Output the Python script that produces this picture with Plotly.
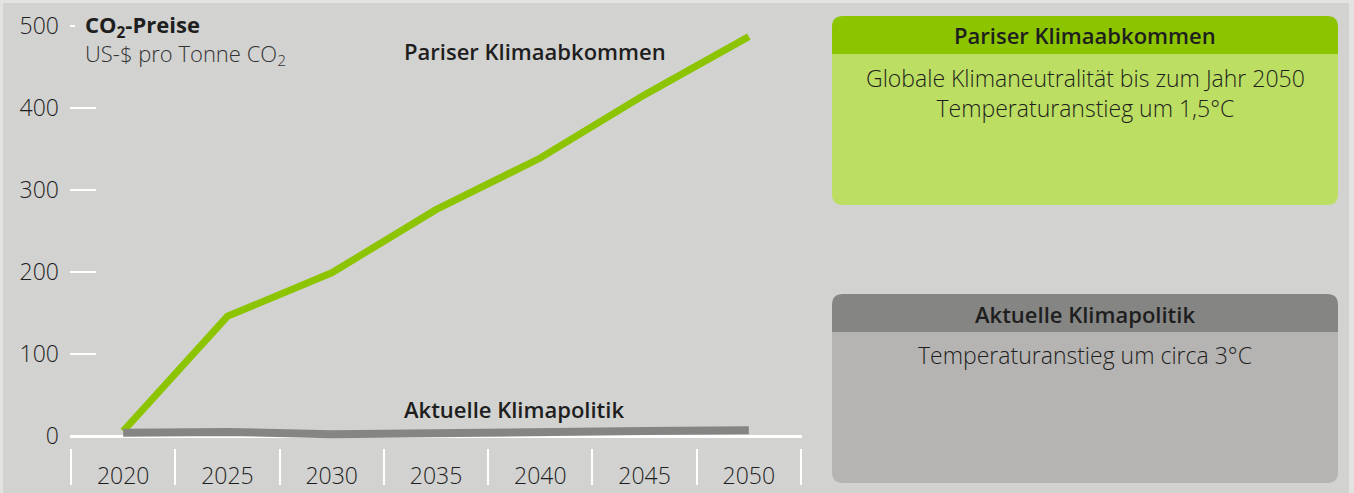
import plotly.graph_objects as go

# --- data -------------------------------------------------------------
years = [2020, 2025, 2030, 2035, 2040, 2045, 2050]
paris_prices = [6, 146, 199, 276, 339, 416, 487]      # Pariser Klimaabkommen
current_prices = [4, 5, 2, 4, 5, 6, 7]                 # Aktuelle Klimapolitik
y_ticks = [0, 100, 200, 300, 400, 500]
year_bounds = [2017.5, 2022.5, 2027.5, 2032.5, 2037.5, 2042.5, 2047.5, 2052.5]

# --- styling ----------------------------------------------------------
W, H = 1354, 493
BG = "#d2d2d0"
FRAME = "#e3e3e2"
GREEN = "#8cc400"
GREEN_LIGHT = "#bcde62"
GRAY = "#858584"
GRAY_LIGHT = "#b5b4b2"
TXT = "#1e1e1e"
FONT = "Open Sans"
LIGHT = 300
SEMI = 600


def px(x):
    return x / W


def py(y):
    return 1 - y / H


def rounded_path(x0, y0, x1, y1, r, top=True, bottom=True):
    """SVG path (paper coords) for a rectangle given in pixels, with optional rounded corners."""
    pts = []
    if top:
        pts.append(f"M{px(x0)},{py(y0 + r)}")
        pts.append(f"Q{px(x0)},{py(y0)} {px(x0 + r)},{py(y0)}")
        pts.append(f"L{px(x1 - r)},{py(y0)}")
        pts.append(f"Q{px(x1)},{py(y0)} {px(x1)},{py(y0 + r)}")
    else:
        pts.append(f"M{px(x0)},{py(y0)}")
        pts.append(f"L{px(x1)},{py(y0)}")
    if bottom:
        pts.append(f"L{px(x1)},{py(y1 - r)}")
        pts.append(f"Q{px(x1)},{py(y1)} {px(x1 - r)},{py(y1)}")
        pts.append(f"L{px(x0 + r)},{py(y1)}")
        pts.append(f"Q{px(x0)},{py(y1)} {px(x0)},{py(y1 - r)}")
    else:
        pts.append(f"L{px(x1)},{py(y1)}")
        pts.append(f"L{px(x0)},{py(y1)}")
    pts.append("Z")
    return " ".join(pts)


fig = go.Figure()

fig.add_trace(go.Scatter(
    x=years, y=paris_prices, mode="lines",
    line=dict(color=GREEN, width=7), hoverinfo="skip", showlegend=False,
))
fig.add_trace(go.Scatter(
    x=years, y=current_prices, mode="lines",
    line=dict(color=GRAY, width=8), hoverinfo="skip", showlegend=False,
))

# pixel geometry of the plotting area: y=0 at 436 px, 0.82 px per unit
y_lo, y_hi = -15, 510
y_bottom_px = 436 - 0.82 * y_lo
y_top_px = 436 - 0.82 * y_hi

shapes = []
# main gray panel inside a thin light frame
shapes.append(dict(type="rect", xref="paper", yref="paper", x0=px(3), x1=px(1349),
                   y0=py(H), y1=py(3), fillcolor=BG, line=dict(width=0), layer="below"))

# info boxes: coloured header band above a lighter body
boxes = [
    dict(x0=832, x1=1338, top=16, mid=54, bottom=205, head=GREEN, body=GREEN_LIGHT),
    dict(x0=832, x1=1338, top=294, mid=332, bottom=483, head=GRAY, body=GRAY_LIGHT),
]
for b in boxes:
    shapes.append(dict(type="path", xref="paper", yref="paper",
                       path=rounded_path(b["x0"], b["mid"], b["x1"], b["bottom"], 11, top=False),
                       fillcolor=b["body"], line=dict(width=0), layer="below"))
    shapes.append(dict(type="path", xref="paper", yref="paper",
                       path=rounded_path(b["x0"], b["top"], b["x1"], b["mid"], 11, bottom=False),
                       fillcolor=b["head"], line=dict(width=0), layer="below"))


def note(text, x, y, size=23, weight=LIGHT, anchor="left", color=TXT, ref="paper",
         align="left"):
    if ref == "paper":
        xr, yr, xv, yv = "paper", "paper", px(x), py(y)
    else:
        xr, yr, xv, yv = "x", "y", x, y
    return dict(xref=xr, yref=yr, x=xv, y=yv, xanchor=anchor, yanchor="middle",
                text=text, showarrow=False, align=align,
                font=dict(family=FONT, size=size, color=color, weight=weight))


annotations = [
    # axis title (two lines)
    note("<b>CO<sub>2</sub>-Preise</b><br><span style='color:#333333'>US-$ pro Tonne CO<sub>2</sub></span>",
         83, 40, size=22),
    # line labels
    note("Pariser Klimaabkommen", 2033.35, 470, size=22, weight=SEMI, ref="data"),
    note("Aktuelle Klimapolitik", 2033.35, 33, size=22, weight=SEMI, ref="data"),
    # box texts
    note("Pariser Klimaabkommen", 1085, 35, size=22, weight=SEMI, anchor="center"),
    note("Globale Klimaneutralität bis zum Jahr 2050<br>Temperaturanstieg um 1,5°C",
         1085, 93, anchor="center", align="center"),
    note("Aktuelle Klimapolitik", 1085, 314, size=22, weight=SEMI, anchor="center"),
    note("Temperaturanstieg um circa 3°C", 1085, 355, anchor="center"),
]

fig.update_layout(
    width=W, height=H,
    margin=dict(l=0, r=0, t=0, b=0, pad=0, autoexpand=False),
    paper_bgcolor=FRAME,
    plot_bgcolor="rgba(0,0,0,0)",
    font=dict(family=FONT, color=TXT),
    shapes=shapes,
    annotations=annotations,
    showlegend=False,
    xaxis=dict(
        domain=[px(70), px(802)],
        range=[year_bounds[0] - 0.05, year_bounds[-1] + 0.05],
        tickvals=years, ticktext=[str(y) for y in years],
        ticks="", showgrid=False, zeroline=False, showline=False, automargin=False,
        tickfont=dict(family=FONT, size=23, color=TXT, weight=LIGHT),
        ticklabelstandoff=12,
        minor=dict(tickvals=year_bounds, ticks="outside", ticklen=36,
                   tickwidth=2, tickcolor="white", showgrid=False),
        fixedrange=True,
    ),
    yaxis=dict(
        domain=[py(y_bottom_px), py(y_top_px)],
        range=[y_lo, y_hi],
        tickvals=y_ticks, ticktext=[str(v) for v in y_ticks],
        ticks="inside", ticklen=5, tickwidth=2, tickcolor="white",
        minor=dict(tickvals=y_ticks[:-1], ticks="inside", ticklen=26,
                   tickwidth=2, tickcolor="white", showgrid=False),
        showgrid=False, showline=False, automargin=False,
        zeroline=True, zerolinecolor="white", zerolinewidth=3,
        tickfont=dict(family=FONT, size=23, color=TXT, weight=LIGHT),
        ticklabelstandoff=10,
        fixedrange=True,
    ),
)

# the page body gets no default margin so the figure fills the window exactly
fig.write_html(
    "out.html",
    post_script="document.body.style.margin='0';document.body.style.overflow='hidden';",
)
